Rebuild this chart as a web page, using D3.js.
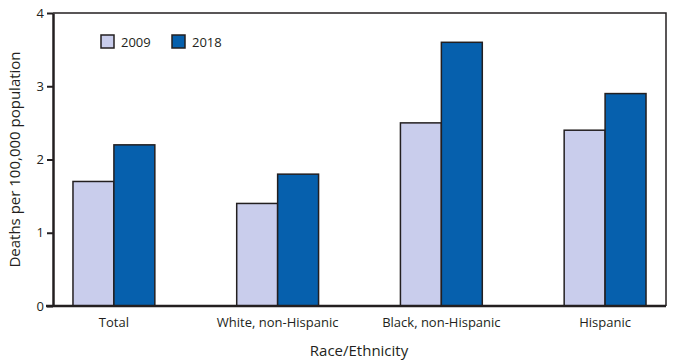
<!DOCTYPE html>
<html>
<head>
<meta charset="utf-8">
<script src="https://cdn.jsdelivr.net/npm/d3@7"></script>
<style>
  body { margin: 0; background: #fff; }
  text { font-family: "Open Sans", "Noto Sans", sans-serif; fill: #231f20; }
</style>
</head>
<body>
<div id="chart"></div>
<script>
// data
const categories = ['Total', 'White, non-Hispanic', 'Black, non-Hispanic', 'Hispanic']
const years = ['2009', '2018']
const values2009 = [1.7, 1.4, 2.5, 2.4]
const values2018 = [2.2, 1.8, 3.6, 2.9]
const yTicks = [0, 1, 2, 3, 4]

const width = 673
const height = 364
const margin = { top: 13, right: 7, bottom: 58, left: 53 }
const colors = { '2009': '#c9cdec', '2018': '#0660ad' }

const svg = d3.select('#chart').append('svg')
  .attr('width', width)
  .attr('height', height)

const x = d3.scaleBand()
  .domain(categories)
  .range([margin.left, width - margin.right])
  .paddingInner(0.5)
  .paddingOuter(0.122)

const xSub = d3.scaleBand()
  .domain(years)
  .range([0, x.bandwidth()])

const y = d3.scaleLinear()
  .domain([0, 4])
  .range([height - margin.bottom, margin.top])

// plot frame (top and right)
svg.append('path')
  .attr('d', `M${margin.left},${margin.top}H${width - margin.right}V${height - margin.bottom}`)
  .attr('fill', 'none')
  .attr('stroke', '#231f20')
  .attr('stroke-width', 1.5)

// bars
const series = [values2009, values2018]
const groups = svg.append('g').selectAll('g')
  .data(categories)
  .join('g')
  .attr('transform', d => `translate(${x(d)},0)`)

groups.selectAll('rect')
  .data((d, i) => years.map((yr, j) => ({ year: yr, value: series[j][i] })))
  .join('rect')
  .attr('x', d => xSub(d.year))
  .attr('y', d => y(d.value))
  .attr('width', xSub.bandwidth())
  .attr('height', d => y(0) - y(d.value))
  .attr('fill', d => colors[d.year])
  .attr('stroke', '#231f20')
  .attr('stroke-width', 1.5)

// y axis
const yAxis = svg.append('g')
  .attr('transform', `translate(${margin.left},0)`)
  .call(d3.axisLeft(y).tickValues(yTicks).tickFormat(d3.format('d')).tickSize(6).tickSizeOuter(0))
yAxis.select('.domain').attr('stroke', '#231f20').attr('stroke-width', 2.5)
yAxis.selectAll('.tick line').attr('stroke', '#231f20').attr('stroke-width', 2)
yAxis.selectAll('.tick text')
  .attr('x', -9)
  .style('font-size', '13px')

// x axis (baseline, no ticks)
const xAxis = svg.append('g')
  .attr('transform', `translate(0,${y(0)})`)
  .call(d3.axisBottom(x).tickSize(0).tickSizeOuter(0))
xAxis.select('.domain')
  .attr('d', `M${margin.left - 7},0H${width - margin.right}`)
  .attr('stroke', '#231f20')
  .attr('stroke-width', 2.5)
xAxis.selectAll('.tick text')
  .attr('y', 12)
  .style('font-size', '13px')

// axis titles
svg.append('text')
  .attr('transform', `translate(19.5,${(margin.top + y(0)) / 2}) rotate(-90)`)
  .attr('text-anchor', 'middle')
  .style('font-size', '15px')
  .text('Deaths per 100,000 population')

svg.append('text')
  .attr('x', 359)
  .attr('y', 356)
  .attr('text-anchor', 'middle')
  .style('font-size', '15px')
  .text('Race/Ethnicity')

// legend
const legend = svg.append('g')
  .selectAll('g')
  .data(years)
  .join('g')
  .attr('transform', (d, i) => `translate(${101 + i * 71},35)`)

legend.append('rect')
  .attr('width', 13)
  .attr('height', 13)
  .attr('fill', d => colors[d])
  .attr('stroke', '#231f20')
  .attr('stroke-width', 1.5)

legend.append('text')
  .attr('x', 20)
  .attr('y', 11.5)
  .style('font-size', '13px')
  .text(d => d)
</script>
</body>
</html>
